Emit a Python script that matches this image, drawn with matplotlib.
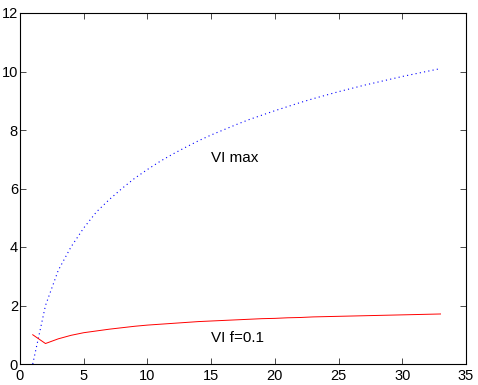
import numpy as np
from matplotlib import pyplot as plt

x = np.arange(1, 34)
vi_max = [0.0, 2.0, 3.2, 4.0, 4.65, 5.2, 5.62, 6.0, 6.35, 6.65, 6.93, 7.18,
          7.41, 7.63, 7.83, 8.01, 8.19, 8.36, 8.51, 8.66, 8.8, 8.94, 9.07,
          9.19, 9.31, 9.42, 9.53, 9.63, 9.73, 9.83, 9.92, 10.01, 10.1]
vi_f01 = [1.0, 0.7, 0.86, 0.98, 1.07, 1.13, 1.19, 1.24, 1.29, 1.33, 1.36,
          1.39, 1.42, 1.45, 1.47, 1.49, 1.51, 1.53, 1.55, 1.56, 1.58, 1.59,
          1.61, 1.62, 1.63, 1.64, 1.65, 1.66, 1.67, 1.68, 1.69, 1.70, 1.71]

plt.rcParams['font.family'] = ['Liberation Sans', 'DejaVu Sans']

fig = plt.figure(figsize=(4.78, 3.85), dpi=100)
ax = fig.add_axes([20/478, 21/385, 446/478, 351/385])

ax.plot(x, vi_max, color='blue', linewidth=0.8, linestyle=(0, (1, 2.9)))
ax.plot(x, vi_f01, '-', color='red', linewidth=0.7)

ax.text(15, 7.05, 'VI max', fontsize=11, va='center', ha='left')
ax.text(15, 0.9, 'VI f=0.1', fontsize=11, va='center', ha='left')

ax.set_xlim(0, 35)
ax.set_ylim(0, 12)
ax.set_xticks(range(0, 36, 5))
ax.set_yticks(range(0, 13, 2))
ax.tick_params(direction='in', top=True, right=True, labelsize=10.5, length=4, width=0.5)
ax.tick_params(axis='y', pad=1.5)
for s in ax.spines.values():
    s.set_linewidth(0.8)

plt.savefig('out.png', dpi=100)
